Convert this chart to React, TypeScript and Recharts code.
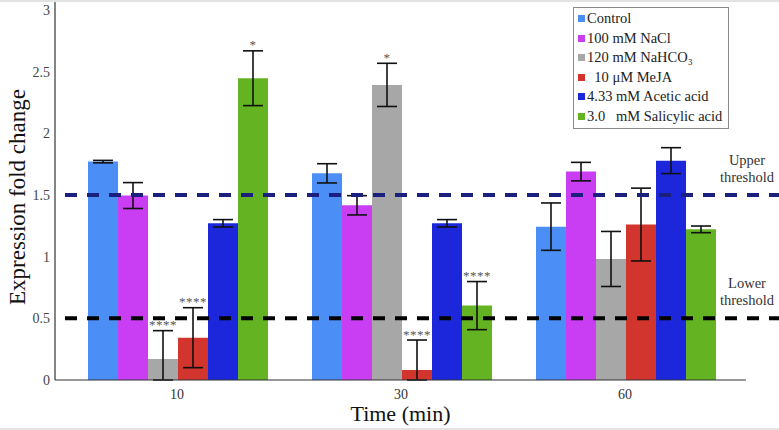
import { BarChart, Bar, XAxis, YAxis, ErrorBar, LabelList, Legend, ReferenceLine } from 'recharts';

const times = ['10', '30', '60'];

const control = [1.77, 1.675, 1.243];
const controlErr = [0.01, 0.078, 0.192];
const nacl = [1.495, 1.416, 1.689];
const naclErr = [0.105, 0.078, 0.075];
const nahco3 = [0.17, 2.392, 0.981];
const nahco3Err = [0.23, 0.175, 0.223];
const meja = [0.343, 0.081, 1.26];
const mejaErr = [0.243, 0.243, 0.295];
const acetic = [1.27, 1.27, 1.778];
const aceticErr = [0.03, 0.03, 0.105];
const salicylic = [2.446, 0.603, 1.221];
const salicylicErr = [0.222, 0.195, 0.027];

const nahco3Sig = ['****', '*', ''];
const mejaSig = ['****', '****', ''];
const salicylicSig = ['*', '****', ''];

const upperThreshold = 1.5;
const lowerThreshold = 0.5;
const yTicks = [0, 0.5, 1, 1.5, 2, 2.5, 3];

const SERIF = '"Liberation Serif", "DejaVu Serif", serif';

const SERIES = [
  { key: 'control', name: 'Control', color: '#4b8ff6', values: control, errs: controlErr, sig: null },
  { key: 'nacl', name: '100 mM NaCl', color: '#c93ef2', values: nacl, errs: naclErr, sig: null },
  { key: 'nahco3', name: '120 mM NaHCO₃', color: '#a7a7a7', values: nahco3, errs: nahco3Err, sig: nahco3Sig },
  { key: 'meja', name: '  10 μM MeJA', color: '#d2352d', values: meja, errs: mejaErr, sig: mejaSig },
  { key: 'acetic', name: '4.33 mM Acetic acid', color: '#1c27dc', values: acetic, errs: aceticErr, sig: null },
  { key: 'salicylic', name: '3.0   mM Salicylic acid', color: '#63b322', values: salicylic, errs: salicylicErr, sig: salicylicSig },
];

// error bars stop at the x axis, like in the original figure
const rows = times.map((t, i) => {
  const row: Record<string, any> = { time: t };
  SERIES.forEach(s => {
    row[s.key] = s.values[i];
    row[s.key + 'Err'] = [Math.min(s.errs[i], s.values[i]), s.errs[i]];
    if (s.sig) row[s.key + 'Sig'] = s.sig[i];
  });
  return row;
});

// asterisks sit just above the top of the error bar
const sigLabel = (values: number[], errs: number[]) => (props: any) => {
  const { x, y, width, height, value, index } = props;
  if (!value) return null;
  const pxPerUnit = height / values[index];
  const top = y - errs[index] * pxPerUnit;
  return (
    <text x={x + width / 2} y={top - 1.5} textAnchor="middle" fontSize={13} fill="#555" fontFamily={SERIF} letterSpacing={0.5}>
      {value}
    </text>
  );
};

const LegendBox = ({ payload }: any) => {
  const order = SERIES.map(s => s.name);
  const items = [...(payload || [])].sort((a: any, b: any) => order.indexOf(a.value) - order.indexOf(b.value));
  return (
    <div style={{ border: '1px solid #8a8a8a', background: '#fff', padding: '1px 4px 2px 4px', fontFamily: SERIF, fontSize: 14.5, color: '#222' }}>
      {items.map((p: any) => (
        <div key={p.value} style={{ display: 'flex', alignItems: 'center', height: 19.5, whiteSpace: 'pre' }}>
          <span style={{ width: 7, height: 7, background: p.color, marginRight: 2, flex: 'none' }} />
          {p.value}
        </div>
      ))}
    </div>
  );
};

const YTitle = (props: any) => {
  const vb = props.viewBox;
  const cx = vb.x + 25;
  const cy = vb.y + vb.height / 2 + 7;
  return (
    <text x={cx} y={cy} transform={`rotate(-90, ${cx}, ${cy})`} textAnchor="middle" fontSize={23} fill="#111" fontFamily={SERIF}>
      Expression fold change
    </text>
  );
};

const noteStyle: React.CSSProperties = {
  position: 'absolute',
  left: 716,
  width: 62,
  textAlign: 'center',
  fontFamily: SERIF,
  fontSize: 14.5,
  lineHeight: '17px',
  color: '#333',
  pointerEvents: 'none',
};

export default function App() {
  return (
    <div style={{ position: 'absolute', left: 0, top: 0, width: 779, height: 430, background: '#fff' }}>
      <BarChart
        width={779}
        height={430}
        data={rows}
        margin={{ top: 0, right: 33, left: 0, bottom: 0 }}
        barCategoryGap={23}
        barGap={0}
      >
        <XAxis
          xAxisId="pos"
          type="number"
          domain={[0, 3]}
          allowDataOverflow
          ticks={[1, 2]}
          height={0}
          padding={{ left: 10, right: 9 }}
          axisLine={false}
          tickSize={5}
          tickLine={{ stroke: '#333', strokeWidth: 1.2 }}
          tickFormatter={() => ''}
        />
        <XAxis
          xAxisId="pos2"
          type="number"
          domain={[0, 3]}
          allowDataOverflow
          ticks={[1, 2]}
          height={0}
          mirror
          padding={{ left: 10, right: 9 }}
          axisLine={false}
          tickSize={5}
          tickLine={{ stroke: '#333', strokeWidth: 1.2 }}
          tickFormatter={() => ''}
        />
        <XAxis
          dataKey="time"
          height={50}
          padding={{ left: 10, right: 9 }}
          axisLine={{ stroke: '#333', strokeWidth: 1.2 }}
          tickLine={false}
          tickSize={4}
          tickMargin={5}
          tick={{ fontSize: 14, fill: '#333', fontFamily: SERIF }}
          label={{ value: 'Time (min)', position: 'insideBottom', offset: 9, fontSize: 22, fill: '#111', fontFamily: SERIF }}
        />
        <YAxis
          width={55}
          domain={[0, 3.08]}
          allowDataOverflow
          ticks={yTicks}
          interval={0}
          axisLine={{ stroke: '#333', strokeWidth: 1.2 }}
          tickLine={false}
          tickSize={0}
          tickMargin={5}
          tick={{ fontSize: 14, fill: '#444', fontFamily: SERIF }}
          label={<YTitle />}
        />
        <Legend
          layout="vertical"
          align="center"
          verticalAlign="middle"
          wrapperStyle={{ top: 7, left: 573, width: 156 }}
          content={<LegendBox />}
        />
        {SERIES.map(s => (
          <Bar key={s.key} dataKey={s.key} name={s.name} fill={s.color} isAnimationActive={false}>
            <ErrorBar dataKey={s.key + 'Err'} width={10} stroke="#111" strokeWidth={1.6} />
            {s.sig && <LabelList dataKey={s.key + 'Sig'} content={sigLabel(s.values, s.errs)} />}
          </Bar>
        ))}
        <ReferenceLine
          xAxisId="pos"
          segment={[{ x: 0, y: upperThreshold }, { x: 3.19, y: upperThreshold }]}
          stroke="#1b1f7e"
          strokeWidth={4}
          strokeDasharray="12 10"
          ifOverflow="visible"
        />
        <ReferenceLine
          xAxisId="pos"
          segment={[{ x: 0, y: lowerThreshold }, { x: 3.19, y: lowerThreshold }]}
          stroke="#000"
          strokeWidth={4}
          strokeDasharray="12 10"
          ifOverflow="visible"
        />
      </BarChart>
      <div style={{ ...noteStyle, top: 152 }}>Upper<br />threshold</div>
      <div style={{ ...noteStyle, top: 275 }}>Lower<br />threshold</div>
      <div style={{ position: 'absolute', inset: 0, borderTop: '2px solid #e2e2e2', borderBottom: '2px solid #e2e2e2', pointerEvents: 'none' }} />
    </div>
  );
}
